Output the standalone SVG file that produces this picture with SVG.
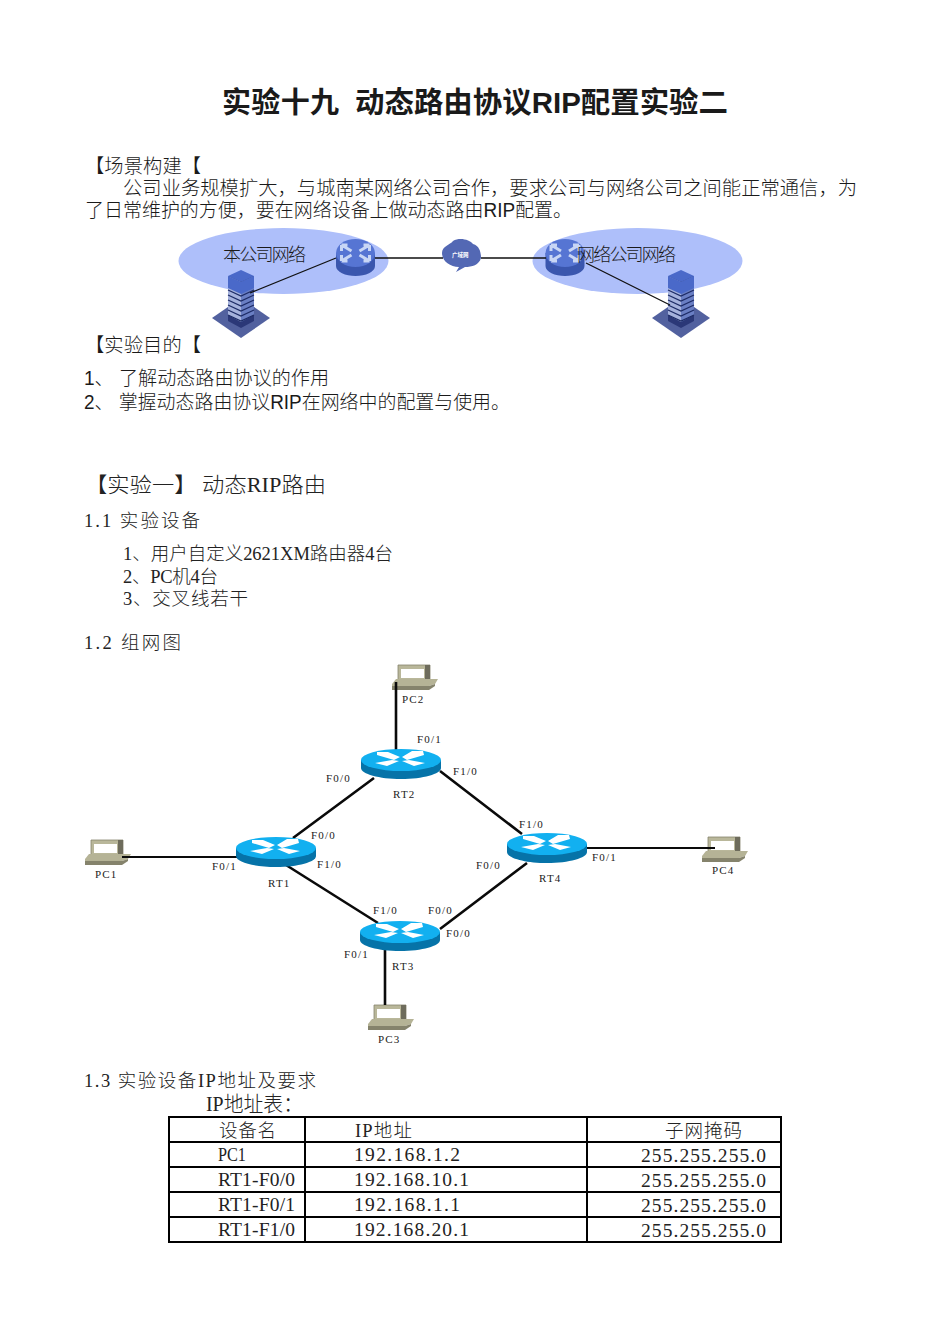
<svg xmlns="http://www.w3.org/2000/svg" width="950" height="1342" viewBox="0 0 950 1342">
<style>
text{font-family:"Liberation Sans","Noto Sans CJK SC",sans-serif;fill:#1a1a1a;font-weight:300}
.t{font-size:19.3px}
.h{font-size:18px}
.m{font-family:"Liberation Serif","Noto Sans CJK SC",serif;font-size:19.5px;font-weight:400;fill:#222}
.s{font-family:"Liberation Serif","Noto Sans CJK SC",serif;font-size:18.5px;fill:#222}
.n{font-family:"Liberation Serif","Noto Sans CJK SC",serif;font-size:11px;letter-spacing:1.2px;font-weight:400;fill:#222}
.thin{stroke:#111;stroke-width:1.3;fill:none}
.link{stroke:#0a0a0a;stroke-width:2.6;fill:none}
.link2{stroke:#0a0a0a;stroke-width:2;fill:none}
.grid{stroke:#000;stroke-width:2;fill:none}
</style>
<defs>
<g id="router">
<path d="M-40,-4V4C-40,10-22,15 0,15S40,10 40,4V-4Z" fill="#0673a8"/>
<ellipse cx="0" cy="-4" rx="40" ry="11" fill="#12b0f0"/>
<path d="M-24,-12H-13L-1,-7-7,-4-24,-9ZM22,-13H11L1,-7 6,-4 23,-9ZM-26,-1L-9,-4-2,-3-14,2ZM24,-1L8,-4 1,-3 13,2Z" fill="#fff"/>
</g>
<g id="pc">
<path d="M-17,-16H15V0H-17Z" fill="#b9b79a" stroke="#85836c" stroke-width=".8"/>
<path d="M-14,-12H9V-3H-14Z" fill="#fff"/>
<path d="M10,-16H15V0H10Z" fill="#6e6c5c"/>
<path d="M-23,3L-19,-2H23L20,3 14,5H-23Z" fill="#b5b396"/>
<path d="M-23,5H14L20,3V5L14,9H-23Z" fill="#85836c"/>
</g>
<g id="blue">
<path d="M-19.500,-5V8C-19.500,14-10,18 0,18S19.500,14 19.500,8V-5Z" fill="#3a56ae"/>
<ellipse cx="0" cy="-5" rx="19.500" ry="14" fill="#5675d3"/>
<path d="M-14,-13L-4,-7M-14,-13V-7M-14,-13H-8M14,-13L4,-7M14,-13V-7M14,-13H8M-14,3L-4,-3M-14,3V-3M-14,3H-8M14,3L4,-3M14,3V-3M14,3H8" stroke="#c8d6f5" stroke-width="3" fill="none"/>
</g>
<g id="bld">
<path d="M0,-8L29,12 0,32-29,12Z" fill="#52619f"/>
<path d="M-13,-30V15L0,22 13,15V-30Z" fill="#2b3878"/>
<path d="M-13,-30L0,-24V16L-13,9Z" fill="#a5b2dc"/>
<path d="M13,-30L0,-24V16L13,9Z" fill="#6a7fc4"/>
<path d="M-13,-30L0,-24V-12L-13,-18ZM13,-30L0,-24V-12L13,-18Z" fill="#4a69c9"/>
<path d="M0,-36L13,-30 0,-24-13,-30Z" fill="#4a69c9"/>
<path d="M-13,-16L0,-10 13,-16M-13,-11L0,-5 13,-11M-13,-6L0,0 13,-6M-13,-1L0,5 13,-1M-13,4L0,10 13,4M-13,9L0,15 13,9" stroke="#1e2c66" stroke-width="1.3" fill="none"/>
</g>
</defs>

<text x="222" y="113" font-size="29" style="font-weight:700" textLength="117">实验十九</text>
<text x="355" y="113" font-size="29" style="font-weight:700" textLength="373" lengthAdjust="spacingAndGlyphs">动态路由协议RIP配置实验二</text>

<text class="t" x="85" y="173" textLength="116">【场景构建【</text>
<text class="t" x="123" y="195" textLength="734">公司业务规模扩大，与城南某网络公司合作，要求公司与网络公司之间能正常通信，为</text>
<text class="t" x="85" y="217" textLength="487" lengthAdjust="spacingAndGlyphs">了日常维护的方便，要在网络设备上做动态路由RIP配置。</text>

<g id="cloud-a"><ellipse cx="283.500" cy="261" rx="105" ry="33" fill="#aebffa"/></g>
<g id="cloud-b"><ellipse cx="637.500" cy="261" rx="105" ry="33" fill="#aebffa"/></g>
<g id="co-bld"><use href="#bld" x="241" y="306"/></g>
<g id="net-bld"><use href="#bld" x="681" y="306"/></g>
<g id="co-router"><use href="#blue" x="355.500" y="258"/></g>
<g id="wan"><path d="M442,253C442,246 450,245 453,241 460,237 470,240 473,244 480,246 481,253 481,258 479,265 472,267 465,267L456,272 459,267C450,267 442,261 442,253Z" fill="#5368b4"/><text x="452" y="257" font-size="5.500" style="fill:#fff;font-weight:700">广域网</text></g>
<g id="net-router"><use href="#blue" x="565" y="258"/></g>
<g id="top-links">
<path class="thin" d="M250,293L336,258M375,258H443M481,258H546M586,263L670,305"/>
</g>
<g id="co-label"><text class="h" x="223" y="261" textLength="83">本公司网络</text></g>
<g id="net-label"><text class="h" x="577" y="261" textLength="99">网络公司网络</text></g>

<text class="t" x="85" y="352" textLength="116">【实验目的【</text>
<text class="t" x="84" y="385" textLength="245" lengthAdjust="spacingAndGlyphs">1、 了解动态路由协议的作用</text>
<text class="t" x="84" y="409" textLength="426" lengthAdjust="spacingAndGlyphs">2、 掌握动态路由协议RIP在网络中的配置与使用。</text>

<text class="s" x="85" y="492" style="font-size:21px" textLength="241" lengthAdjust="spacingAndGlyphs">【实验一】 动态RIP路由</text>
<text class="s" x="84" y="527" textLength="116">1.1 实验设备</text>
<text class="s" x="123" y="560" textLength="270">1、用户自定义2621XM路由器4台</text>
<text class="s" x="123" y="583" textLength="95">2、PC机4台</text>
<text class="s" x="123" y="605" textLength="125">3、交叉线若干</text>
<text class="s" x="84" y="649" textLength="97">1.2 组网图</text>

<g id="PC2"><use href="#pc" x="415" y="681"/><text class="n" x="402" y="703">PC2</text></g>
<g id="PC1"><use href="#pc" x="108" y="856"/><text class="n" x="95" y="878">PC1</text></g>
<g id="PC4"><use href="#pc" x="725" y="853"/><text class="n" x="712" y="874">PC4</text></g>
<g id="PC3"><use href="#pc" x="391" y="1021"/><text class="n" x="378" y="1043">PC3</text></g>

<g id="connectors">
<path class="link" d="M396,682V752M374,778L293,838M440,771L522,834M286,865L378,923M527,863L440,929M385,948V1005"/>
<path class="link2" d="M122,857H240M585,848H715"/>
</g>

<g id="RT2"><use href="#router" x="401" y="764"/><text class="n" x="393" y="798">RT2</text><text class="n" x="417" y="743">F0/1</text><text class="n" x="326" y="782">F0/0</text><text class="n" x="453" y="775">F1/0</text></g>
<g id="RT1"><use href="#router" x="276" y="852"/><text class="n" x="268" y="887">RT1</text><text class="n" x="311" y="839">F0/0</text><text class="n" x="317" y="868">F1/0</text><text class="n" x="212" y="870">F0/1</text></g>
<g id="RT4"><use href="#router" x="547" y="848"/><text class="n" x="539" y="882">RT4</text><text class="n" x="519" y="828">F1/0</text><text class="n" x="476" y="869">F0/0</text><text class="n" x="592" y="861">F0/1</text></g>
<g id="RT3"><use href="#router" x="400" y="936"/><text class="n" x="392" y="970">RT3</text><text class="n" x="373" y="914">F1/0</text><text class="n" x="428" y="914">F0/0</text><text class="n" x="446" y="937">F0/0</text><text class="n" x="344" y="958">F0/1</text></g>

<text class="s" x="84" y="1087" textLength="232">1.3 实验设备IP地址及要求</text>
<text class="s" x="206" y="1111" style="font-size:21px" textLength="97" lengthAdjust="spacingAndGlyphs">IP地址表：</text>

<g id="ip-table">
<path class="grid" d="M169,1117H781V1242H169ZM169,1142H781M169,1167H781M169,1192H781M169,1217H781M305,1117V1242M587,1117V1242"/>
<text class="s" x="219" y="1137" textLength="57">设备名</text>
<text class="s" x="355" y="1137" textLength="57">IP地址</text>
<text class="s" x="665" y="1137" textLength="77">子网掩码</text>
<text class="m" x="218" y="1161" textLength="28" lengthAdjust="spacingAndGlyphs">PC1</text>
<text class="m" x="354" y="1161" textLength="106">192.168.1.2</text>
<text class="m" x="641" y="1162" textLength="125">255.255.255.0</text>
<text class="m" x="218" y="1186" textLength="77">RT1-F0/0</text>
<text class="m" x="354" y="1186" textLength="115">192.168.10.1</text>
<text class="m" x="641" y="1187" textLength="125">255.255.255.0</text>
<text class="m" x="218" y="1211" textLength="77">RT1-F0/1</text>
<text class="m" x="354" y="1211" textLength="106">192.168.1.1</text>
<text class="m" x="641" y="1212" textLength="125">255.255.255.0</text>
<text class="m" x="218" y="1236" textLength="77">RT1-F1/0</text>
<text class="m" x="354" y="1236" textLength="115">192.168.20.1</text>
<text class="m" x="641" y="1237" textLength="125">255.255.255.0</text>
</g>
</svg>
